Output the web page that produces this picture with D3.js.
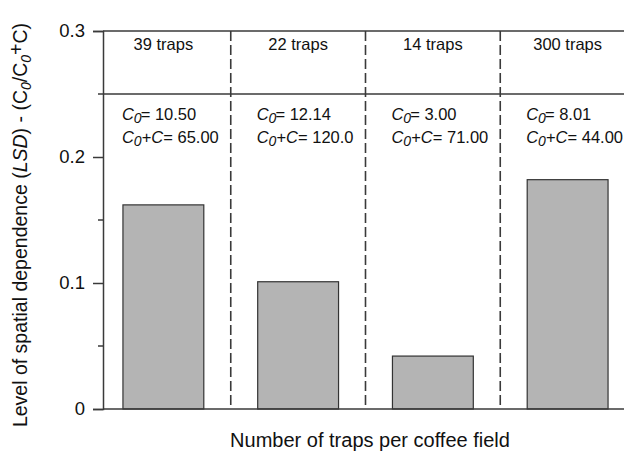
<!DOCTYPE html>
<html>
<head>
<meta charset="utf-8">
<script src="https://cdn.jsdelivr.net/npm/d3@7"></script>
<style>
  html, body { margin: 0; padding: 0; background: #fff; }
  svg { display: block; font-family: "Liberation Sans", Arial, sans-serif; }
</style>
</head>
<body>
<svg id="chart" width="624" height="458"></svg>
<script>
// Number of traps in each coffee field
const categories = ["39 traps", "22 traps", "14 traps", "300 traps"];
// Level of spatial dependence, C0/(C0+C)
const lsd = [0.162, 0.101, 0.042, 0.182];
// Nugget and sill of each semivariogram
const nugget = ["10.50", "12.14", "3.00", "8.01"];
const sill = ["65.00", "120.0", "71.00", "44.00"];
const yTicks = [0, 0.1, 0.2, 0.3];
const yMinorTicks = [0.05, 0.15, 0.25];

const svg = d3.select("#chart");
const axisColor = "#3a3a3a";
const plotLeft = 103, plotRight = 630, plotTop = 31, plotBottom = 409;

const x = d3.scaleBand()
  .domain(categories)
  .range([96, 635])
  .paddingInner(0.4)
  .paddingOuter(0.2);

const y = d3.scaleLinear().domain([0, 0.3]).range([plotBottom, plotTop]);

// Bars
svg.append("g").selectAll("rect")
  .data(lsd)
  .join("rect")
  .attr("x", (d, i) => x(categories[i]))
  .attr("y", d => y(d))
  .attr("width", x.bandwidth())
  .attr("height", d => y(0) - y(d))
  .attr("fill", "#b4b4b4")
  .attr("stroke", "#333")
  .attr("stroke-width", 1.2);

// Dashed separators between fields
const gapHalf = x.step() * x.paddingInner() / 2;
svg.append("g").selectAll("line")
  .data(categories.slice(1))
  .join("line")
  .attr("x1", d => x(d) - gapHalf)
  .attr("x2", d => x(d) - gapHalf)
  .attr("y1", y(0.3))
  .attr("y2", y(0))
  .attr("stroke", "#3a3a3a")
  .attr("stroke-width", 1.6)
  .attr("stroke-dasharray", "10,4");

// Horizontal frame lines: top, header divider, baseline
[0.3, 0.25, 0].forEach(v => {
  svg.append("line")
    .attr("x1", plotLeft).attr("x2", plotRight)
    .attr("y1", y(v)).attr("y2", y(v))
    .attr("stroke", axisColor)
    .attr("stroke-width", 1.5);
});

// Y axis with major and minor ticks
const yAxis = svg.append("g")
  .attr("transform", `translate(${plotLeft},0)`)
  .call(d3.axisLeft(y).tickValues(yTicks).tickSize(10).tickPadding(8)
    .tickFormat(d => d === 0 ? "0" : d3.format(".1f")(d)));
yAxis.select(".domain").attr("stroke", axisColor).attr("stroke-width", 1.5);
yAxis.selectAll(".tick line").attr("stroke", axisColor).attr("stroke-width", 1.5);
yAxis.selectAll(".tick text")
  .attr("font-size", 18.5)
  .attr("fill", "#111")
  .attr("font-family", "Liberation Sans, Arial, sans-serif");

svg.append("g").selectAll("line")
  .data(yMinorTicks)
  .join("line")
  .attr("x1", plotLeft - 5).attr("x2", plotLeft)
  .attr("y1", d => y(d)).attr("y2", d => y(d))
  .attr("stroke", axisColor)
  .attr("stroke-width", 1.5);

// Field headers
svg.append("g").selectAll("text")
  .data(categories)
  .join("text")
  .attr("x", d => x(d) + x.bandwidth() / 2)
  .attr("y", 50)
  .attr("text-anchor", "middle")
  .attr("font-size", 16.5)
  .attr("fill", "#111")
  .text(d => d);

// Semivariogram parameters
const notes = svg.append("g").selectAll("g")
  .data(categories)
  .join("g")
  .attr("transform", d => `translate(${x(d) - 1},0)`)
  .attr("font-size", 16.5)
  .attr("fill", "#111");

notes.append("text")
  .attr("y", 120)
  .each(function (d, i) {
    const t = d3.select(this);
    t.append("tspan").attr("font-style", "italic").text("C");
    t.append("tspan").attr("font-style", "italic").attr("font-size", 14).attr("dy", 3).text("0");
    t.append("tspan").attr("dy", -3).attr("dx", -1).text("= " + nugget[i]);
  });

notes.append("text")
  .attr("y", 143)
  .each(function (d, i) {
    const t = d3.select(this);
    t.append("tspan").attr("font-style", "italic").text("C");
    t.append("tspan").attr("font-style", "italic").attr("font-size", 14).attr("dy", 3).text("0");
    t.append("tspan").attr("dy", -3).text("+");
    t.append("tspan").attr("font-style", "italic").text("C");
    t.append("tspan").text("= " + sill[i]);
  });

// Axis titles
svg.append("text")
  .attr("x", 370)
  .attr("y", 447)
  .attr("text-anchor", "middle")
  .attr("font-size", 20)
  .attr("fill", "#111")
  .text("Number of traps per coffee field");

const yTitle = svg.append("text")
  .attr("transform", "translate(27,225) rotate(-90)")
  .attr("text-anchor", "middle")
  .attr("font-size", 19.5)
  .attr("fill", "#111");
yTitle.append("tspan").text("Level of spatial dependence (");
yTitle.append("tspan").attr("font-style", "italic").text("LSD");
yTitle.append("tspan").text(") - (C");
yTitle.append("tspan").attr("font-style", "italic").attr("font-size", 14).attr("dy", 4).text("0");
yTitle.append("tspan").attr("dy", -4).text("/C");
yTitle.append("tspan").attr("font-style", "italic").attr("font-size", 14).attr("dy", 4).text("0");
yTitle.append("tspan").attr("dy", -8).text("+");
yTitle.append("tspan").attr("dy", 4).text("C)");
</script>
</body>
</html>
